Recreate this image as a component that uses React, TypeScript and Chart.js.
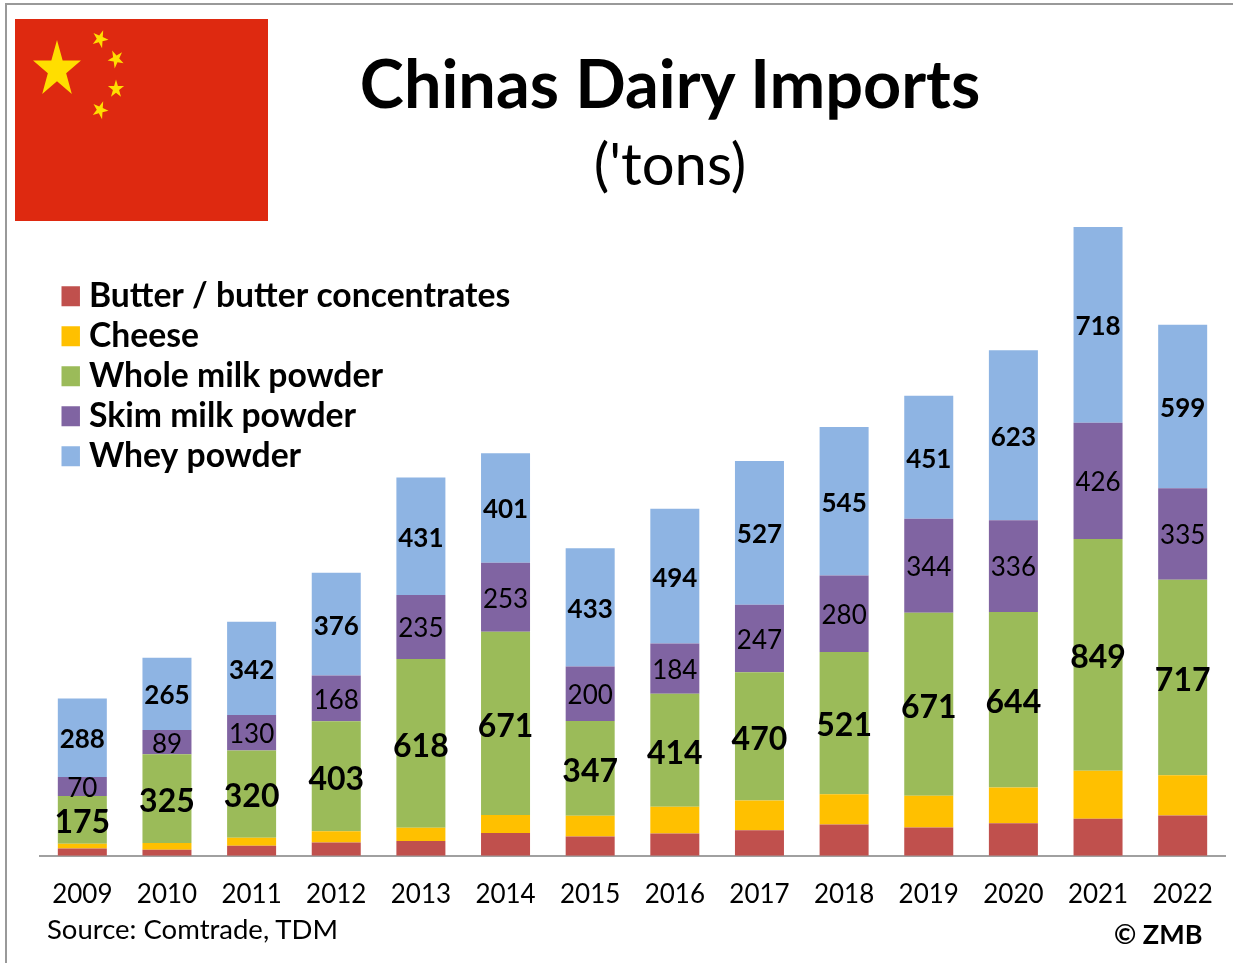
import React, { useEffect, useRef } from "react";
import { Chart, registerables } from "chart.js";

Chart.register(...registerables);

const years = ["2009","2010","2011","2012","2013","2014","2015","2016","2017","2018","2019","2020","2021","2022"];
const butter = [27,22,37,49,54,84,71,82,94,115,104,119,136,148];
const cheese = [17,25,29,41,49,66,76,98,109,111,116,131,176,147];
const wholeMilk = [175,325,320,403,618,671,347,414,470,521,671,644,849,717];
const skimMilk = [70,89,130,168,235,253,200,184,247,280,344,336,426,335];
const whey = [288,265,342,376,431,401,433,494,527,545,451,623,718,599];

const FONT = "Lato, sans-serif";

const labelStyle: Record<number, string> = {
  2: `bold 32px ${FONT}`,
  3: `26px ${FONT}`,
  4: `bold 26px ${FONT}`,
};

const segmentLabels = {
  id: "segmentLabels",
  afterDatasetsDraw(chart: any) {
    const ctx = chart.ctx;
    ctx.save();
    ctx.fillStyle = "#000";
    ctx.textAlign = "center";
    ctx.textBaseline = "middle";
    Object.keys(labelStyle).forEach((k) => {
      const i = Number(k);
      ctx.font = labelStyle[i];
      const nudge = i === 2 ? 3 : 2;
      chart.getDatasetMeta(i).data.forEach((el: any, j: number) => {
        ctx.fillText(String(chart.data.datasets[i].data[j]), el.x, (el.y + el.base) / 2 + nudge);
      });
    });
    ctx.restore();
  },
};

const moveLegend = {
  id: "moveLegend",
  afterLayout(chart: any) {
    const l = chart.legend;
    if (!l) return;
    const w = l.right - l.left;
    const h = l.bottom - l.top;
    l.left = 61.5;
    l.right = 61.5 + w;
    l.top = 273;
    l.bottom = 273 + h;
  },
};

function star(cx: number, cy: number, rx: number, ry: number, rot: number) {
  const pts: string[] = [];
  for (let i = 0; i < 10; i++) {
    const f = i % 2 === 0 ? 1 : 0.382;
    const a = ((-90 + rot + i * 36) * Math.PI) / 180;
    pts.push(`${cx + rx * f * Math.cos(a)},${cy + ry * f * Math.sin(a)}`);
  }
  return pts.join(" ");
}

export default function App() {
  const ref = useRef<HTMLCanvasElement>(null);
  useEffect(() => {
    const colors = ["#C0504D", "#FFC000", "#9BBB59", "#8064A2", "#8EB4E3"];
    const chart = new Chart(ref.current as HTMLCanvasElement, {
      type: "bar",
      data: {
        labels: years,
        datasets: [
          { label: "Butter / butter concentrates", data: butter, backgroundColor: colors[0] },
          { label: "Cheese", data: cheese, backgroundColor: colors[1] },
          { label: "Whole milk powder", data: wholeMilk, backgroundColor: colors[2] },
          { label: "Skim milk powder", data: skimMilk, backgroundColor: colors[3] },
          { label: "Whey powder", data: whey, backgroundColor: colors[4] },
        ],
      },
      options: {
        responsive: false,
        animation: false,
        layout: { padding: { left: 40, right: 8, top: 201, bottom: 38 } },
        datasets: { bar: { barPercentage: 0.579, categoryPercentage: 1 } },
        scales: {
          x: {
            stacked: true,
            grid: { display: false },
            border: { display: true, color: "#a0a0a0", width: 2 },
            ticks: {
              color: "#000",
              font: { family: FONT, size: 26 },
              padding: 15,
              maxRotation: 0,
              autoSkip: false,
            },
          },
          y: { stacked: true, display: false, min: 0, max: 2400 },
        },
        plugins: {
          title: { display: false },
          tooltip: { enabled: false },
          legend: {
            position: "chartArea",
            align: "start",
            labels: {
              color: "#000",
              font: { family: FONT, size: 33.7, weight: "bold" },
              boxWidth: 4.3,
              boxHeight: 4.3,
              padding: 6.3,
              generateLabels(c: any) {
                return c.data.datasets.map((d: any, i: number) => ({
                  text: d.label,
                  fillStyle: d.backgroundColor,
                  strokeStyle: d.backgroundColor,
                  lineWidth: 15.7,
                  datasetIndex: i,
                  hidden: false,
                }));
              },
            },
          },
        },
      } as any,
      plugins: [segmentLabels, moveLegend],
    });
    return () => chart.destroy();
  }, []);

  const text = (style: React.CSSProperties, s: string) => (
    <div style={{ position: "absolute", fontFamily: FONT, color: "#000", whiteSpace: "nowrap", lineHeight: 1, ...style }}>{s}</div>
  );

  return (
    <div style={{ position: "absolute", left: 0, top: 0, width: 1233, height: 963, overflow: "hidden", background: "#fff" }}>
      <canvas ref={ref} width={1233} height={963} style={{ position: "absolute", left: 0, top: 0, display: "block" }} />
      <div style={{ position: "absolute", left: 5, top: 3, width: 1228, height: 2, background: "#999" }} />
      <div style={{ position: "absolute", left: 5, top: 3, width: 2, height: 960, background: "#999" }} />
      <svg style={{ position: "absolute", left: 15, top: 19 }} width={253} height={202}>
        <rect width={253} height={202} fill="#DE2910" />
        <polygon points={star(42, 50.8, 25.2, 29.8, 0)} fill="#FFDE00" />
        <polygon points={star(85, 20, 8.5, 9.5, 22)} fill="#FFDE00" />
        <polygon points={star(101, 40, 8.5, 9.5, 45)} fill="#FFDE00" />
        <polygon points={star(101, 70, 8.5, 9.5, 0)} fill="#FFDE00" />
        <polygon points={star(85, 91, 8.5, 9.5, 22)} fill="#FFDE00" />
      </svg>
      {text({ left: 270, width: 800, textAlign: "center", top: 49, fontSize: 66.6, fontWeight: 700 }, "Chinas Dairy Imports")}
      {text({ left: 270, width: 800, textAlign: "center", top: 134, fontSize: 58 }, "('tons)")}
      {text({ left: 47, top: 915, fontSize: 27.5 }, "Source: Comtrade, TDM")}
      {text({ left: 1114, top: 920, fontSize: 27, fontWeight: 700 }, "© ZMB")}
    </div>
  );
}
